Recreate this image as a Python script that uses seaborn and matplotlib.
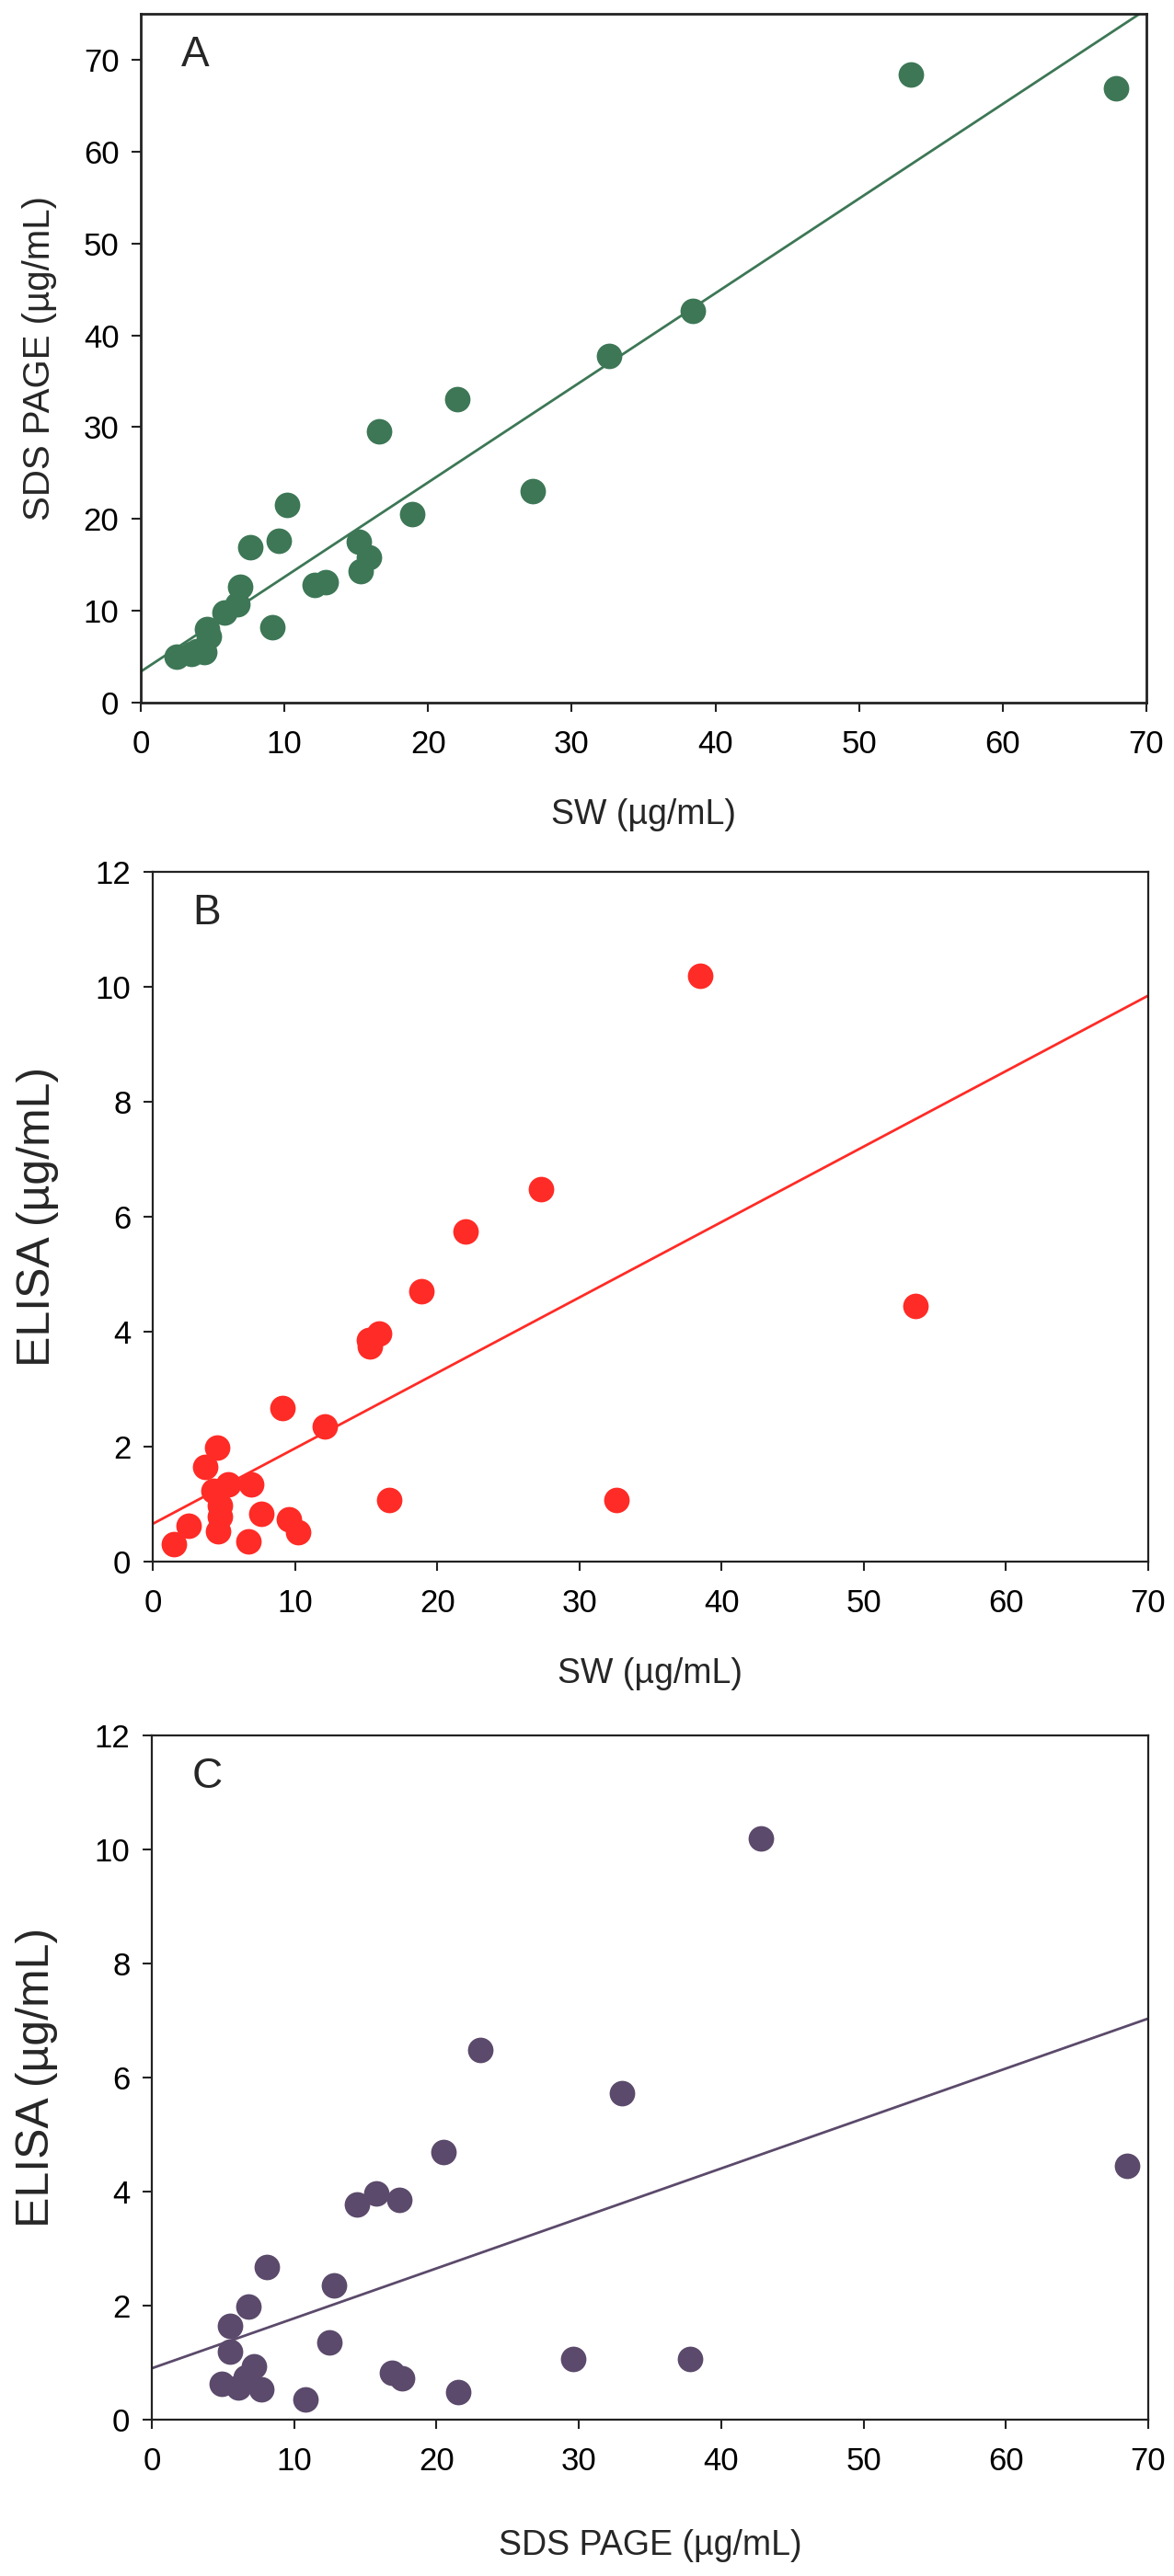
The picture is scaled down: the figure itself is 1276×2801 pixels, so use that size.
import matplotlib
matplotlib.use("Agg")
import matplotlib.pyplot as plt
import seaborn as sns

# panel A: SW vs SDS PAGE
sw_a = [2.5, 3.5, 3.9, 4.45, 4.6, 4.75, 5.85, 6.75, 6.9, 7.65, 9.15, 9.6, 10.2,
        12.1, 12.9, 15.2, 15.3, 15.9, 16.6, 18.9, 22.0, 27.3, 32.6, 38.4, 53.6, 67.9]
sds_a = [5.0, 5.3, 5.6, 5.5, 8.0, 7.2, 9.8, 10.7, 12.6, 16.9, 8.2, 17.6, 21.5,
         12.8, 13.1, 17.5, 14.3, 15.8, 29.5, 20.5, 33.0, 23.0, 37.8, 42.7, 68.4, 66.9]

# panel B: SW vs ELISA
sw_b = [1.5, 2.5, 3.7, 4.3, 4.5, 4.6, 4.7, 4.7, 5.3, 6.7, 6.9, 7.65, 9.1,
        9.6, 10.2, 12.1, 15.2, 15.3, 15.9, 16.6, 18.9, 22.0, 27.3, 32.6, 38.5, 53.6]
elisa_b = [0.30, 0.63, 1.65, 1.23, 1.99, 0.53, 0.97, 0.78, 1.35, 0.36, 1.35, 0.83, 2.68,
           0.74, 0.52, 2.36, 3.85, 3.75, 3.97, 1.07, 4.70, 5.74, 6.48, 1.07, 10.2, 4.45]

# panel C: SDS PAGE vs ELISA
sds_c = [4.9, 5.5, 5.5, 6.1, 6.6, 6.8, 7.2, 7.7, 8.1, 10.8, 12.5, 12.8, 14.4,
         15.8, 16.9, 17.4, 17.6, 20.5, 21.5, 23.1, 29.6, 33.0, 37.8, 42.8, 68.5]
elisa_c = [0.63, 1.65, 1.19, 0.56, 0.75, 1.98, 0.94, 0.53, 2.67, 0.36, 1.35, 2.36, 3.77,
           3.96, 0.82, 3.85, 0.72, 4.69, 0.49, 6.48, 1.06, 5.73, 1.06, 10.2, 4.45]

sns.set_theme(style="ticks")
plt.rcParams['font.family'] = ['Liberation Sans', 'DejaVu Sans']

W, H = 1276, 2801
fig = plt.figure(figsize=(W / 100, H / 100), dpi=100)


def px_axes(left, right, top, bottom):
    return fig.add_axes([left / W, (H - bottom) / H, (right - left) / W, (bottom - top) / H])


panels = [
    dict(box=(153, 1246, 15, 764), x=sw_a, y=sds_a, color='#3d7756', ylim=(0, 75),
         yticks=range(0, 71, 10), xlabel='SW (µg/mL)', ylabel='SDS PAGE (µg/mL)',
         ylsize=29, letter='A', lw=2.0, ylx=-0.083, xly=-0.139),
    dict(box=(166, 1248, 948, 1698), x=sw_b, y=elisa_b, color='#ff2b26', ylim=(0, 12),
         yticks=range(0, 13, 2), xlabel='SW (µg/mL)', ylabel='ELISA (µg/mL)',
         ylsize=36, letter='B', lw=1.6, ylx=-0.094, xly=-0.139),
    dict(box=(165, 1248, 1887, 2631), x=sds_c, y=elisa_c, color='#5b4a6b', ylim=(0, 12),
         yticks=range(0, 13, 2), xlabel='SDS PAGE (µg/mL)', ylabel='ELISA (µg/mL)',
         ylsize=36, letter='C', lw=1.6, ylx=-0.094, xly=-0.160),
]

for p in panels:
    ax = px_axes(*p['box'])
    ax.set_xlim(0, 70)
    ax.set_ylim(*p['ylim'])
    sns.regplot(x=p['x'], y=p['y'], ax=ax, ci=None, truncate=False, color=p['color'],
                scatter_kws=dict(s=400, alpha=1, linewidths=0, zorder=3),
                line_kws=dict(lw=2.0, zorder=2))
    ax.set_xlim(0, 70)
    ax.set_ylim(*p['ylim'])
    ax.set_xticks(range(0, 71, 10))
    ax.set_yticks(list(p['yticks']))
    ax.tick_params(direction='out', length=7, width=1.5, labelsize=25, colors='#222222',
                   labelcolor='black')
    ax.tick_params(axis='x', pad=14)
    ax.tick_params(axis='y', pad=10)
    for s in ax.spines.values():
        s.set_linewidth(p['lw'])
        s.set_color('#222222')
    ax.set_xlabel(p['xlabel'], fontsize=27)
    ax.xaxis.set_label_coords(0.5, p['xly'])
    ax.set_ylabel(p['ylabel'], fontsize=p['ylsize'])
    ax.yaxis.set_label_coords(p['ylx'], 0.5)
    ax.text(0.04, 0.94, p['letter'], transform=ax.transAxes, fontsize=33,
            ha='left', va='center')

fig.savefig('out.png', dpi=100)
